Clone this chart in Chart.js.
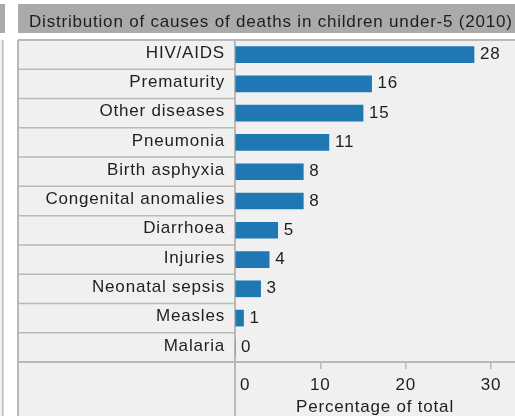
<!DOCTYPE html>
<html>
<head>
<meta charset="utf-8">
<script src="https://cdn.jsdelivr.net/npm/chart.js@4/dist/chart.umd.min.js"></script>
<style>
  html, body { margin: 0; padding: 0; background: #fff; overflow: hidden; }
  #wrap { width: 515px; height: 416px; position: relative; }
</style>
</head>
<body>
<div id="wrap"><canvas id="causesChart"></canvas></div>
<script>
const causes = ['HIV/AIDS', 'Prematurity', 'Other diseases', 'Pneumonia', 'Birth asphyxia',
  'Congenital anomalies', 'Diarrhoea', 'Injuries', 'Neonatal sepsis', 'Measles', 'Malaria'];
const shares = [28, 16, 15, 11, 8, 8, 5, 4, 3, 1, 0];
const xTicks = [0, 10, 20, 30];
const chartTitle = 'Distribution of causes of deaths in children under-5 (2010)';
const axisTitle = 'Percentage of total';

const FONT = '"Liberation Sans", Arial, sans-serif';
const SIZE = 17;
const lineCol = '#b9b9b9';
const SPACING = '0.8px'; // the original text is set a bit loose

// panel backgrounds, title band and row header boxes
const backdrop = {
  id: 'backdrop',
  beforeDraw(chart) {
    const ctx = chart.ctx;
    ctx.letterSpacing = SPACING; // left set so the axis text picks it up too
    const W = chart.width, H = chart.height;
    const area = chart.chartArea;
    const y = chart.scales.y;
    ctx.save();
    ctx.fillStyle = '#fff';
    ctx.fillRect(0, 0, W, H);
    // neighbouring panel on the far left
    ctx.fillStyle = '#aaaaaa';
    ctx.fillRect(0, 4, 5, 29);
    ctx.fillStyle = '#f0f0f0';
    ctx.fillRect(0, 40, 2, H - 40);
    ctx.fillRect(18, 40, W - 18, H - 40);
    ctx.fillStyle = lineCol;
    ctx.fillRect(2, 40, 1.5, H - 40);
    ctx.fillRect(17, 40, 2, H - 40);
    // title band
    ctx.fillStyle = '#aaaaaa';
    ctx.fillRect(18, 4, W - 18, 29);
    ctx.fillStyle = '#1e1e1e';
    ctx.font = SIZE + 'px ' + FONT;
    ctx.textBaseline = 'alphabetic';
    ctx.textAlign = 'left';
    ctx.fillText(chartTitle, 29, 26.5);
    // row header cells
    const rowH = (area.bottom - area.top) / causes.length;
    ctx.strokeStyle = lineCol;
    ctx.lineWidth = 1.5;
    causes.forEach((c, i) => {
      const top = y.getPixelForValue(i) - rowH / 2;
      ctx.beginPath();
      ctx.moveTo(18, top + rowH);
      ctx.lineTo(area.left, top + rowH);
      ctx.stroke();
    });
    // frame lines
    ctx.lineWidth = 2;
    ctx.beginPath();
    ctx.moveTo(18, area.top);
    ctx.lineTo(W, area.top);
    ctx.moveTo(18, area.bottom);
    ctx.lineTo(W, area.bottom);
    ctx.moveTo(area.left, area.top);
    ctx.lineTo(area.left, H);
    ctx.stroke();
    ctx.restore();
  }
};

// value labels next to bars and x tick labels
const labels = {
  id: 'labels',
  afterDatasetsDraw(chart) {
    const ctx = chart.ctx;
    const meta = chart.getDatasetMeta(0);
    ctx.save();
    ctx.font = SIZE + 'px ' + FONT;
    ctx.fillStyle = '#1e1e1e';
    ctx.textAlign = 'left';
    ctx.textBaseline = 'alphabetic';
    meta.data.forEach((bar, i) => {
      ctx.fillText(String(shares[i]), bar.x + 6, bar.y + 4.5);
    });
    const x = chart.scales.x;
    xTicks.forEach(v => {
      const px = x.getPixelForValue(v);
      if (v === 0) {
        ctx.textAlign = 'left';
        ctx.fillText(String(v), px + 5, 390);
      } else {
        ctx.textAlign = 'center';
        ctx.fillText(String(v), px, 390);
      }
    });
    ctx.restore();
  }
};

const config = {
  type: 'bar',
  data: {
    labels: causes,
    datasets: [{
      data: shares,
      backgroundColor: '#1f77b4',
      barThickness: 16
    }]
  },
  options: {
    indexAxis: 'y',
    responsive: true,
    maintainAspectRatio: false,
    animation: false,
    layout: { padding: { top: 40, left: 0, right: 0, bottom: 0 } },
    plugins: {
      legend: { display: false },
      tooltip: { enabled: false }
    },
    scales: {
      x: {
        type: 'linear',
        min: 0,
        max: 32.8,
        afterBuildTicks: s => { s.ticks = xTicks.map(v => ({ value: v })); },
        afterFit: s => { s.height = 54; },
        border: { display: false },
        grid: { drawOnChartArea: false, drawTicks: true, tickLength: 7, color: lineCol, lineWidth: 1.5 },
        ticks: { display: false },
        title: {
          display: true,
          text: axisTitle,
          color: '#1e1e1e',
          font: { family: FONT, size: SIZE, lineHeight: 1.05 },
          padding: { top: 0, bottom: 0 }
        }
      },
      y: {
        afterFit: s => { s.width = 235; },
        border: { display: false },
        grid: { display: false, drawTicks: false },
        ticks: { color: '#1e1e1e', font: { family: FONT, size: SIZE }, padding: 10, labelOffset: -1.5 }
      }
    }
  },
  plugins: [backdrop, labels]
};

const canvas = document.getElementById('causesChart');
const causesChart = new Chart(canvas, config);
</script>
</body>
</html>
